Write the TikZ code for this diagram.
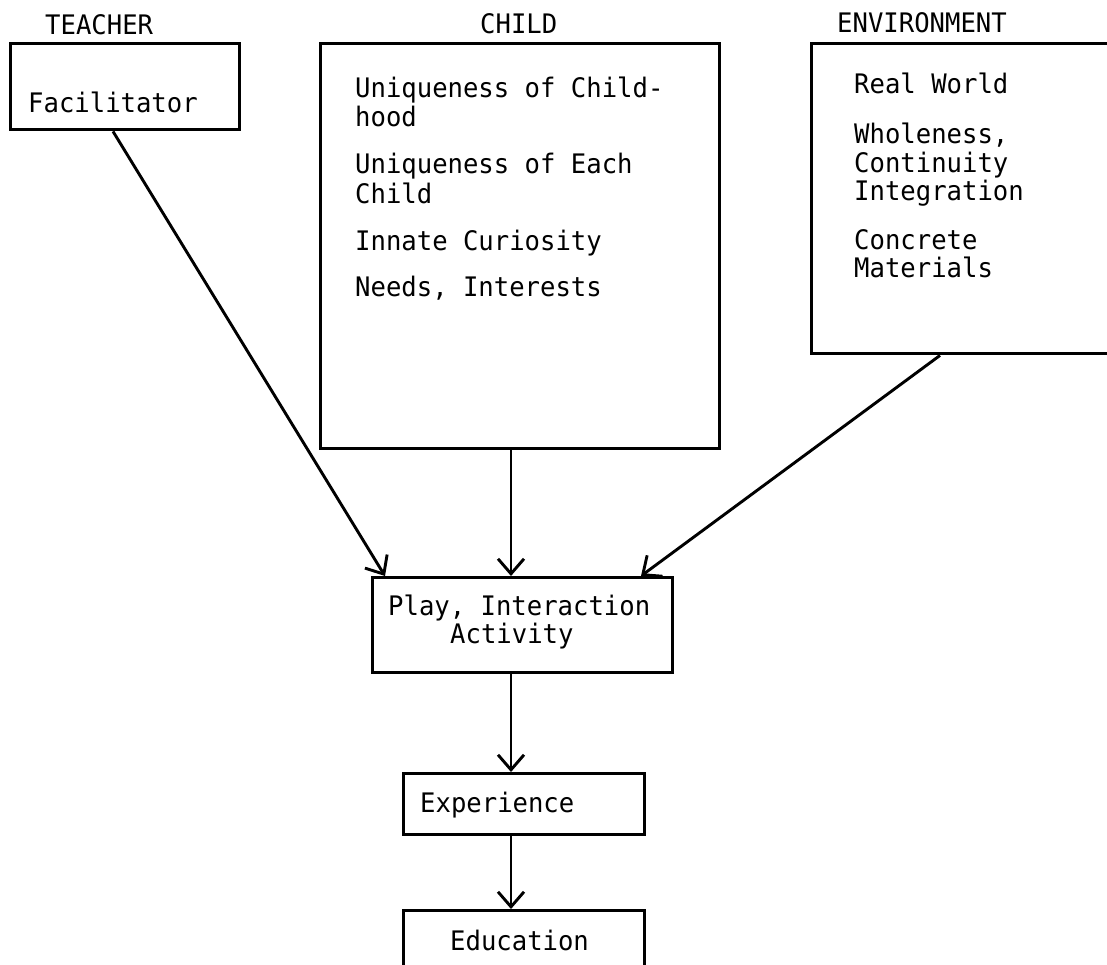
\documentclass[tikz,border=0pt]{standalone}
\usepackage{fontspec}
\setmainfont{DejaVu Sans Mono}
\usetikzlibrary{arrows.meta,calc}
\tikzset{
  box/.style={draw, line width=3.4pt, inner sep=0pt, anchor=north west},
  txt/.style={anchor=base west, inner sep=0pt, font=\fontsize{25.6}{29}\selectfont, yscale=1.05},
  arr/.style={line width=2.9pt, -{Straight Barb[length=15pt,width=26pt]}}
}
\begin{document}
\begin{tikzpicture}[x=1pt,y=-1pt]
\useasboundingbox (0,0) rectangle (1107,964);
% headers
\node[txt] (hteacher) at (45,34) {TEACHER};
\node[txt] (hchild) at (480,33) {CHILD};
\node[txt] (henv) at (837,32) {ENVIRONMENT};
% boxes
\node[box, minimum width=229pt, minimum height=86pt] (teacher) at (9,42) {};
\node[box, minimum width=399pt, minimum height=405pt] (child) at (319,42) {};
\node[box, minimum width=320pt, minimum height=310pt] (env) at (810,42) {};
\node[box, minimum width=300pt, minimum height=95pt] (play) at (371,576) {};
\node[box, minimum width=241pt, minimum height=61pt] (exp) at (402,772) {};
\node[box, minimum width=241pt, minimum height=80pt] (edu) at (402,909) {};
% teacher text
\node[txt] (t1) at (28,112) {Facilitator};
% child text
\node[txt] (c1) at (355,97) {Uniqueness of Child-};
\node[txt] (c2) at (355,126) {hood};
\node[txt] (c3) at (355,173) {Uniqueness of Each};
\node[txt] (c4) at (355,203) {Child};
\node[txt] (c5) at (355,250) {Innate Curiosity};
\node[txt] (c6) at (355,296) {Needs, Interests};
% environment text
\node[txt] (e1) at (854,93) {Real World};
\node[txt] (e2) at (854,143) {Wholeness,};
\node[txt] (e3) at (854,172) {Continuity};
\node[txt] (e4) at (854,200) {Integration};
\node[txt] (e5) at (854,249) {Concrete};
\node[txt] (e6) at (854,277) {Materials};
% lower boxes text
\node[txt] (p1) at (388,615) {Play, Interaction};
\node[txt] (p2) at (450,643) {Activity};
\node[txt] (x1) at (420,812) {Experience};
\node[txt] (d1) at (450,950) {Education};
% arrows
\draw[arr] ($(teacher.south west)+(104,0)$) -- ($(play.north west)+(14,0)$);
\draw[arr] ($(child.south west)+(192,0)$) -- ($(play.north west)+(140,0)$);
\draw[arr] ($(env.south west)+(130,0)$) -- ($(play.north west)+(270,0)$);
\draw[arr] ($(play.south west)+(140,0)$) -- ($(exp.north west)+(109,0)$);
\draw[arr] ($(exp.south west)+(109,0)$) -- ($(edu.north west)+(109,0)$);
\end{tikzpicture}
\end{document}
